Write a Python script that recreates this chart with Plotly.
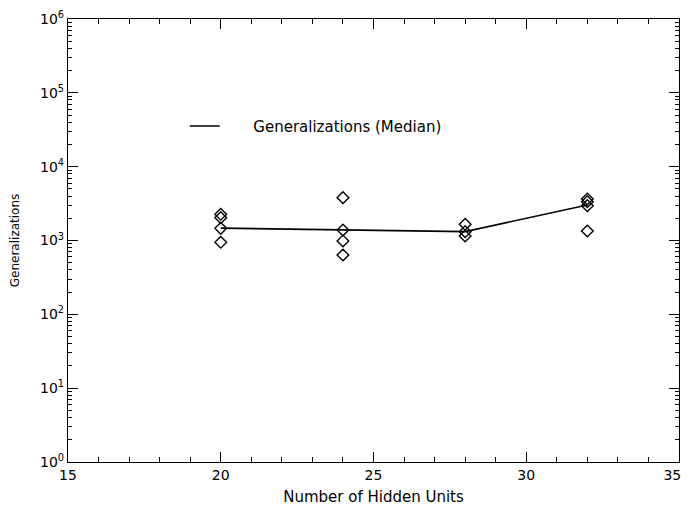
import plotly.graph_objects as go

# Data
hidden_units = [20, 24, 28, 32]
generalizations = {
    20: [946, 1463, 2037, 2265],
    24: [636, 985, 1388, 3800],
    28: [1151, 1316, 1657],
    32: [1345, 2962, 3356, 3650],
}
median_values = [1470, 1390, 1320, 3030]

NB = "\u00a0"

x_tick_vals = [15, 20, 25, 30, 35]
x_tick_text = ["15", "20", "25", "30", "35" + NB * 3]
y_tick_vals = [1, 10, 100, 1000, 10000, 100000, 1000000]
y_tick_text = ["10<sup>0</sup>", "10<sup>1</sup>", "10<sup>2</sup>", "10<sup>3</sup>",
               "10<sup>4</sup>", "10<sup>5</sup>", "10<sup>6</sup>"]
y_minor_vals = [m * 10 ** k for k in range(6) for m in range(2, 10)]

pts_x = [x for x in hidden_units for _ in generalizations[x]]
pts_y = [v for x in hidden_units for v in generalizations[x]]

fig = go.Figure()
fig.add_trace(go.Scatter(
    x=pts_x, y=pts_y, mode="markers", showlegend=False,
    marker=dict(symbol="diamond-open", size=9, color="black", line=dict(width=1.4, color="black")),
))
fig.add_trace(go.Scatter(
    x=hidden_units, y=median_values, mode="lines", name=NB * 6 + "Generalizations (Median)",
    line=dict(color="black", width=1.6),
))

font = "DejaVu Sans, Liberation Sans, sans-serif"
fig.update_layout(
    width=681, height=498,
    margin=dict(l=60, r=10, t=11, b=44),
    paper_bgcolor="white", plot_bgcolor="white",
    font=dict(family=font, color="black", size=13),
    legend=dict(x=0.191, y=0.758, xanchor="left", yanchor="middle",
                bgcolor="rgba(0,0,0,0)", font=dict(size=15)),
    xaxis=dict(
        range=[15, 35], tickmode="array", tickvals=x_tick_vals, ticktext=x_tick_text,
        ticks="inside", ticklen=10, tickwidth=1, tickcolor="black",
        showline=True, linecolor="black", linewidth=1.2, mirror="allticks",
        showgrid=False, zeroline=False, automargin=False, ticklabeloverflow="allow",
        tickfont=dict(size=14),
        title=dict(text="Number of Hidden Units", font=dict(size=15), standoff=9),
        minor=dict(ticks="inside", ticklen=5, tickcolor="black", dtick=1, tick0=15, showgrid=False),
    ),
    yaxis=dict(
        type="log", range=[0, 6], tickmode="array", tickvals=y_tick_vals, ticktext=y_tick_text,
        ticks="inside", ticklen=10, tickwidth=1, tickcolor="black",
        showline=True, linecolor="black", linewidth=1.2, mirror="allticks",
        showgrid=False, zeroline=False, automargin=False, ticklabeloverflow="allow",
        tickfont=dict(size=14),
        title=dict(text="Generalizations", font=dict(size=12), standoff=27),
        minor=dict(ticks="inside", ticklen=4, tickcolor="black", tickmode="array",
                   tickvals=y_minor_vals, showgrid=False),
    ),
)

fig.write_html("out.html")
